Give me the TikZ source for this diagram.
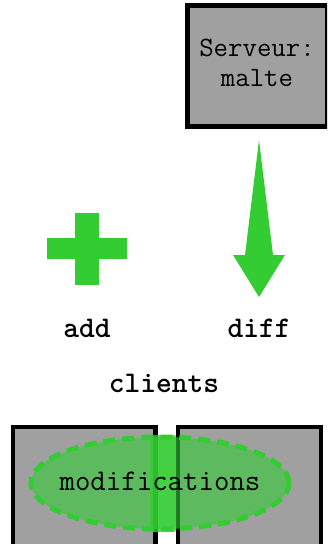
\documentclass[tikz,border=0pt]{standalone}
\usepackage{fontspec}
\usetikzlibrary{shapes.geometric}
\definecolor{leaf}{RGB}{51,204,51}
\definecolor{boxgray}{RGB}{160,160,160}
\tikzset{
  panel/.style={draw=black, fill=boxgray, line width=4.5pt, inner sep=0pt},
  glyph/.style={fill=leaf, draw=none},
  label/.style={font=\ttfamily\fontsize{28}{32}\selectfont, inner sep=0pt, anchor=base},
  biglabel/.style={font=\ttfamily\fontsize{30}{34}\selectfont, inner sep=0pt, anchor=base},
  boldlabel/.style={font=\ttfamily\bfseries\fontsize{30}{34}\selectfont, inner sep=0pt, anchor=base},
}
\begin{document}
\begin{tikzpicture}[x=1pt, y=-1pt]
  \useasboundingbox (0,0) rectangle (327,544);
  \clip (0,0) rectangle (327,544);

  % server box
  \node[panel, minimum width=139.5pt, minimum height=121pt] (server) at (257.25,66) {};
  \node[label] (servname) at (257,56) {Serveur:};
  \node[label] (servhost) at (257,86) {malte};

  % add symbol
  \fill[glyph] (47,238) rectangle (127,259);
  \fill[glyph] (75,213) rectangle (99,285);
  \node[boldlabel] (add) at (87,337) {add};

  % diff arrow
  \fill[glyph] (259,140) -- (273,255) -- (285,255) -- (259,297)
               -- (233,255) -- (245,255) -- cycle;
  \node[boldlabel] (diff) at (259,337) {diff};

  \node[boldlabel] (clients) at (164,392) {clients};

  % client boxes
  \node[panel, minimum width=142.5pt, minimum height=140pt, anchor=north west] (clientA) at (10.5,424.5) {};
  \node[panel, minimum width=143pt, minimum height=140pt, anchor=north west] (clientB) at (175.5,424.5) {};

  % shared modifications
  \node[ellipse, draw=leaf, fill=leaf, fill opacity=0.6, draw opacity=1,
        line width=5pt, dash pattern=on 12pt off 7pt,
        minimum width=258pt, minimum height=92pt] (mods) at (160,483) {};
  \fill[leaf, opacity=0.8, rounded corners=2pt] (150,435) rectangle (176,532);
  \node[biglabel] (modtext) at (160,490) {modifications};
\end{tikzpicture}
\end{document}
